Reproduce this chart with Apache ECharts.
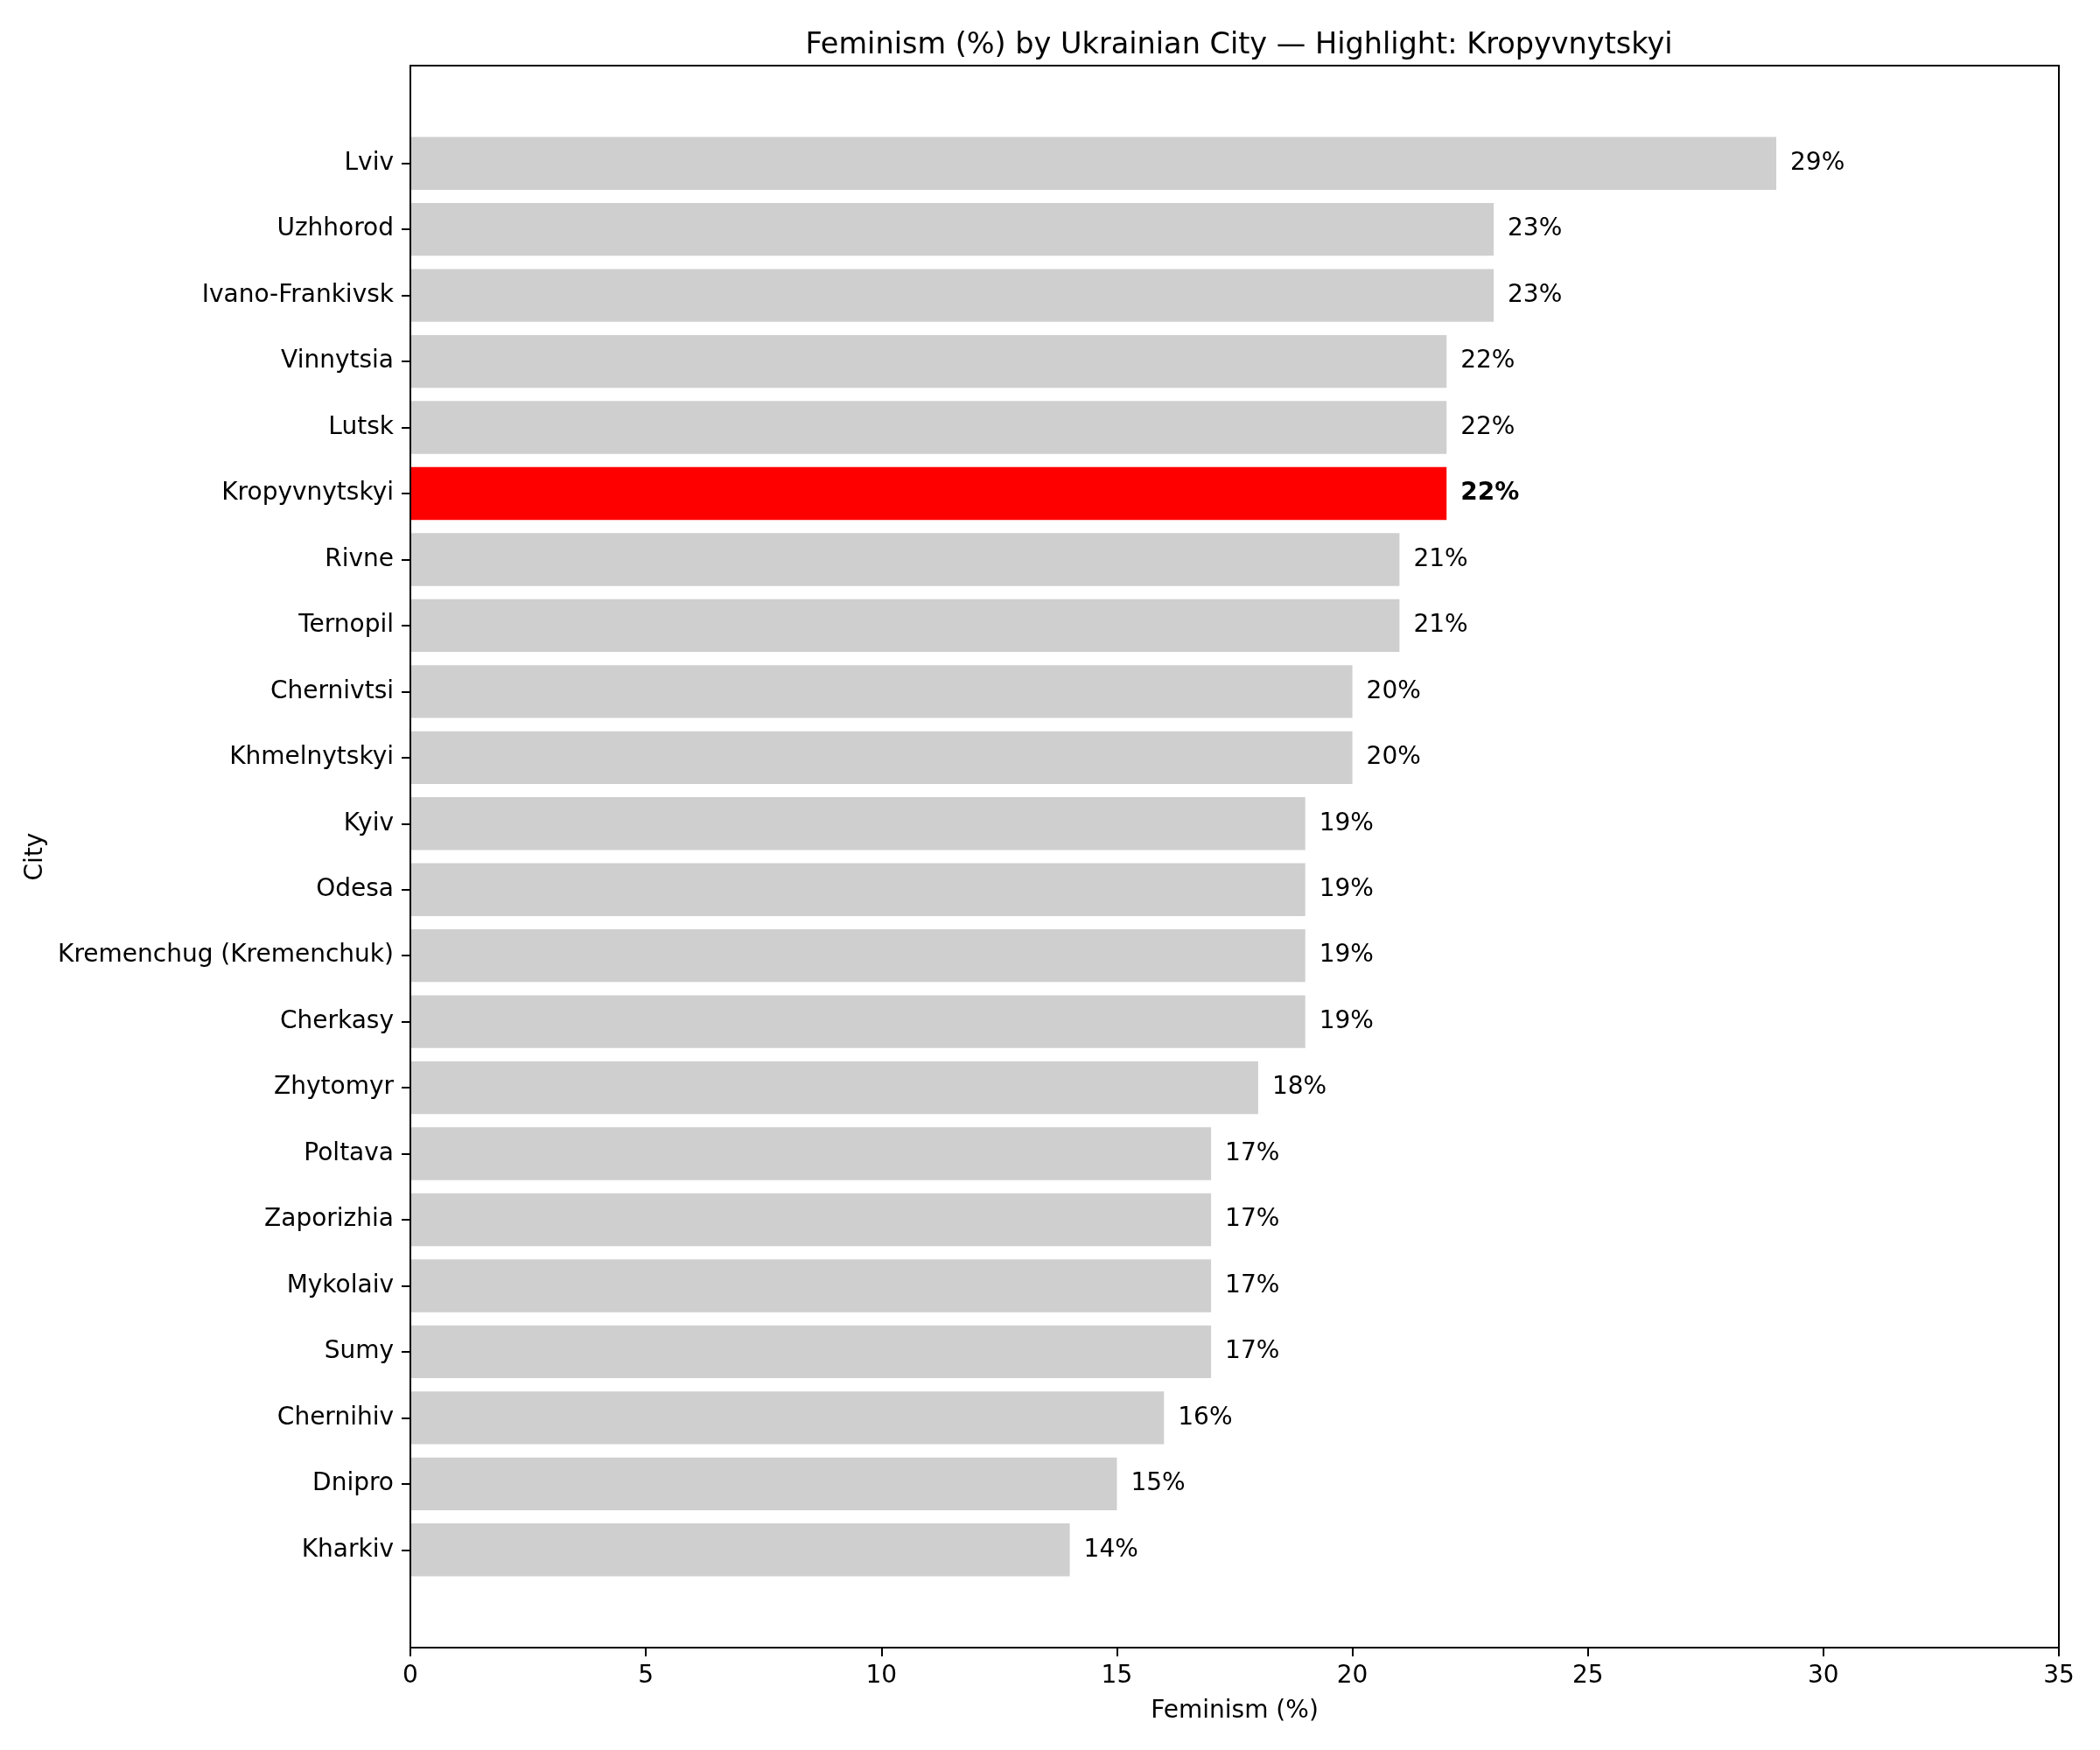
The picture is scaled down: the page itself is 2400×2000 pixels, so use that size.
<!DOCTYPE html>
<html>
<head>
<meta charset="utf-8">
<script src="https://cdn.jsdelivr.net/npm/echarts@6/dist/echarts.min.js"></script>
<style>
  html, body { margin: 0; padding: 0; background: #fff; }
  #chart { width: 2400px; height: 2000px; }
</style>
</head>
<body>
<div id="chart"></div>
<script>
// data, top to bottom
const cities = [
  'Lviv', 'Uzhhorod', 'Ivano-Frankivsk', 'Vinnytsia', 'Lutsk', 'Kropyvnytskyi',
  'Rivne', 'Ternopil', 'Chernivtsi', 'Khmelnytskyi', 'Kyiv', 'Odesa',
  'Kremenchug (Kremenchuk)', 'Cherkasy', 'Zhytomyr', 'Poltava', 'Zaporizhia',
  'Mykolaiv', 'Sumy', 'Chernihiv', 'Dnipro', 'Kharkiv'
];
const feminism = [29, 23, 23, 22, 22, 22, 21, 21, 20, 20, 19, 19, 19, 19, 18, 17, 17, 17, 17, 16, 15, 14];
const highlight = 'Kropyvnytskyi';
const xTicks = [0, 5, 10, 15, 20, 25, 30, 35];

const FONT = 'DejaVu Sans';
const chart = echarts.init(document.getElementById('chart'), null, { renderer: 'canvas' });

const barData = feminism.map((v, i) => {
  const hot = cities[i] === highlight;
  return {
    value: v,
    itemStyle: { color: hot ? '#ff0000' : '#cfcfcf' },
    label: { fontWeight: hot ? 'bold' : 'normal' }
  };
});

const option = {
  animation: false,
  backgroundColor: '#fff',
  textStyle: { fontFamily: FONT },
  title: {
    text: 'Feminism (%) by Ukrainian City \u2014 Highlight: Kropyvnytskyi',
    left: 1411,
    top: 30,
    textAlign: 'center',
    textStyle: { fontFamily: FONT, fontSize: 33.5, fontWeight: 'normal', color: '#000' }
  },
  grid: [
    // frame (axes box)
    { left: 469, right: 47, top: 75, bottom: 117, show: true, borderColor: '#000', borderWidth: 2, backgroundColor: 'transparent' },
    // bar area without the matplotlib margins
    { left: 469, right: 47, top: 149, bottom: 191 }
  ],
  xAxis: [
    {
      gridIndex: 0,
      type: 'value',
      min: 0,
      max: 35,
      interval: 5,
      splitLine: { show: false },
      axisLine: { show: true, lineStyle: { color: '#000', width: 2 } },
      axisTick: { show: true, length: 10, lineStyle: { color: '#000', width: 2 } },
      axisLabel: {
        margin: 19, fontSize: 28, color: '#000', fontFamily: FONT,
        formatter: v => (xTicks.includes(v) ? String(v) : '')
      },
      name: 'Feminism (%)',
      nameLocation: 'middle',
      nameGap: 59,
      nameTextStyle: { fontSize: 28, color: '#000', fontFamily: FONT }
    },
    {
      gridIndex: 1,
      type: 'value',
      min: 0,
      max: 35,
      show: false
    }
  ],
  yAxis: [
    { gridIndex: 0, type: 'value', show: false, min: 0, max: 1 },
    {
      gridIndex: 1,
      type: 'category',
      data: cities,
      inverse: true,
      z: 10,
      axisLine: { show: true, lineStyle: { color: '#000', width: 2 } },
      axisTick: { show: true, alignWithLabel: true, length: 10, lineStyle: { color: '#000', width: 2 } },
      axisLabel: { margin: 19, fontSize: 28, color: '#000', fontFamily: FONT },
      name: 'City',
      nameLocation: 'middle',
      nameRotate: 90,
      nameGap: 409,
      nameTextStyle: { fontSize: 28, color: '#000', fontFamily: FONT }
    }
  ],
  series: [
    {
      type: 'bar',
      xAxisIndex: 1,
      yAxisIndex: 1,
      barWidth: '80%',
      data: barData,
      label: {
        show: true,
        position: 'right',
        distance: 16,
        formatter: '{c}%',
        fontSize: 28,
        color: '#000',
        fontFamily: FONT
      }
    }
  ]
};

chart.setOption(option);
</script>
</body>
</html>
